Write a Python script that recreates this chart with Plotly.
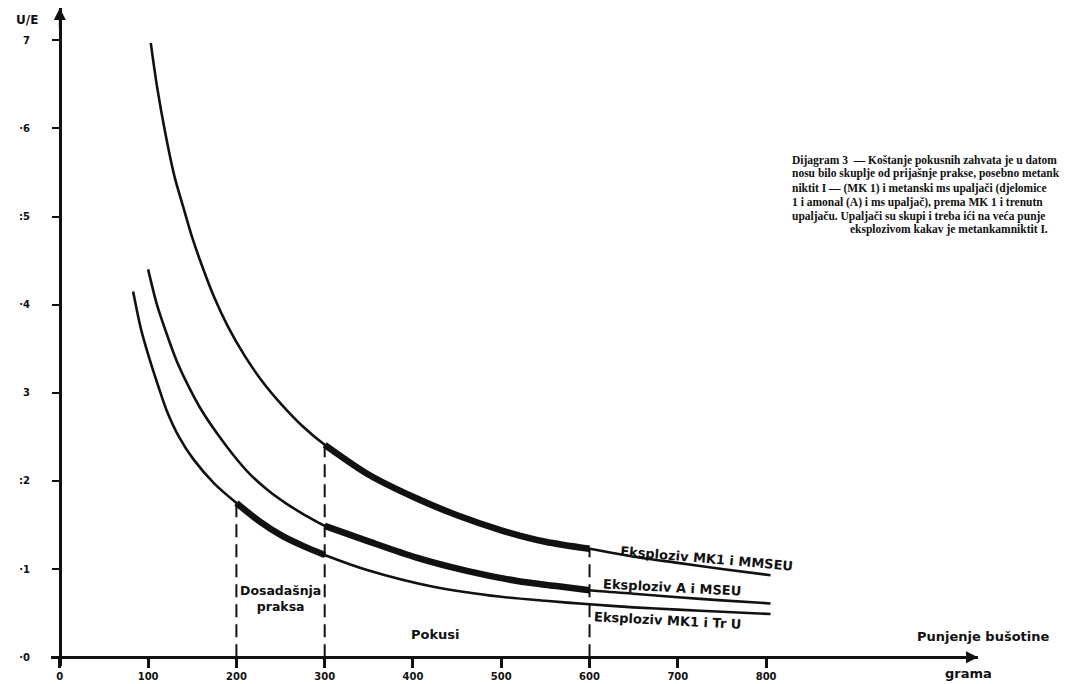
import plotly.graph_objects as go

# ---------------- data ----------------
x_mmseu = [103, 110, 120, 130, 140, 150, 160, 175, 190, 210, 230, 250, 275, 300, 350, 400, 450, 500, 550, 600, 650, 700, 750, 805]
y_mmseu = [6.97, 6.48, 5.92, 5.45, 5.10, 4.76, 4.47, 4.08, 3.76, 3.41, 3.12, 2.88, 2.62, 2.41, 2.07, 1.82, 1.61, 1.44, 1.31, 1.23, 1.14, 1.07, 1.00, 0.93]

x_amseu = [100, 110, 121, 132, 144, 160, 178, 196, 215, 235, 257, 278, 300, 348, 404, 461, 518, 560, 600, 650, 700, 750, 805]
y_amseu = [4.40, 4.00, 3.67, 3.37, 3.11, 2.81, 2.54, 2.30, 2.08, 1.90, 1.74, 1.61, 1.49, 1.32, 1.13, 0.98, 0.865, 0.81, 0.76, 0.72, 0.68, 0.645, 0.61]

x_tru = [83, 92, 102, 112, 121, 135, 151, 175, 200, 225, 253, 276, 300, 348, 423, 500, 550, 600, 650, 700, 750, 805]
y_tru = [4.15, 3.72, 3.37, 3.06, 2.80, 2.50, 2.25, 1.97, 1.75, 1.55, 1.37, 1.26, 1.16, 0.99, 0.80, 0.685, 0.64, 0.60, 0.565, 0.54, 0.515, 0.49]

label_mmseu = "Eksploziv MK1 i MMSEU"
label_amseu = "Eksploziv A i MSEU"
label_tru = "Eksploziv MK1 i Tr U"

practice_range = [200, 300]   # "Dosadašnja praksa"
trials_range = [300, 600]     # "Pokusi"

x_tick_vals = [0, 100, 200, 300, 400, 500, 600, 700, 800]
x_tick_text = ["0", "100", "200", "300", "400", "500", "600", "700", "800"]
y_tick_vals = [0, 1, 2, 3, 4, 5, 6, 7]
y_tick_text = ["·0", "·1", ":2", "3", "·4", ":5", "·6", "7"]

caption_lines = [
    "Dijagram 3  — Koštanje pokusnih zahvata je u datom",
    "nosu bilo skuplje od prijašnje prakse, posebno metank",
    "niktit I — (MK 1) i metanski ms upaljači (djelomice",
    "1 i amonal (A) i ms upaljač), prema MK 1 i trenutn",
    "upaljaču. Upaljači su skupi i treba ići na veća punje",
    "eksplozivom kakav je metankamniktit I.",
]

# ---------------- layout geometry ----------------
# the page body has an 8px margin, so the figure is sized to fit the window
PAGE_OFF = 8
W, H = 1061, 676
ML, MR, MT, MB = 43, 91, 0, 18
X_RANGE = [-10, 1040]
Y_RANGE = [-0.1, 7.366]
INK = "#111111"


def px_to_paper(px, py):
    """window pixel -> paper fraction"""
    pw = W - ML - MR
    ph = H - MT - MB
    return (px - PAGE_OFF - ML) / pw, (H - MB - (py - PAGE_OFF)) / ph


def segment(xs, ys, lo, hi):
    sx = [x for x in xs if lo <= x <= hi]
    sy = [y for x, y in zip(xs, ys) if lo <= x <= hi]
    return sx, sy


def value_at(xs, ys, xv):
    return dict(zip(xs, ys))[xv]


fig = go.Figure()

curves = [(x_mmseu, y_mmseu, trials_range), (x_amseu, y_amseu, trials_range), (x_tru, y_tru, practice_range)]
for xs, ys, rng in curves:
    fig.add_trace(go.Scatter(x=xs, y=ys, mode="lines", line=dict(color=INK, width=2.6, shape="spline", smoothing=0.8),
                             hoverinfo="skip", showlegend=False))
    sx, sy = segment(xs, ys, rng[0], rng[1])
    fig.add_trace(go.Scatter(x=sx, y=sy, mode="lines", line=dict(color=INK, width=6.5, shape="spline", smoothing=0.8),
                             hoverinfo="skip", showlegend=False))

# dashed vertical guides
guides = [
    (practice_range[0], value_at(x_tru, y_tru, practice_range[0])),
    (trials_range[0], value_at(x_mmseu, y_mmseu, trials_range[0])),
    (trials_range[1], value_at(x_mmseu, y_mmseu, trials_range[1])),
]
for gx, gy in guides:
    fig.add_trace(go.Scatter(x=[gx, gx], y=[0, gy], mode="lines",
                             line=dict(color=INK, width=2, dash="13px,7px"),
                             hoverinfo="skip", showlegend=False))

sans_bold = dict(family="DejaVu Sans", size=13, color=INK, weight="bold")

annotations = []


def add_label(x, y, text, font, ref="data", angle=0, xanchor="center"):
    if ref == "data":
        annotations.append(dict(x=x, y=y, xref="x", yref="y", text=text, showarrow=False, font=font,
                                textangle=angle, xanchor=xanchor, yanchor="middle"))
    else:
        px_, py_ = px_to_paper(x, y)
        annotations.append(dict(x=px_, y=py_, xref="paper", yref="paper", text=text, showarrow=False, font=font,
                                textangle=angle, xanchor=xanchor, yanchor="middle"))


# curve labels
add_label(732, 1.12, label_mmseu, sans_bold, angle=5)
add_label(693, 0.79, label_amseu, sans_bold, angle=3)
add_label(688, 0.42, label_tru, sans_bold, angle=3)
# region labels
add_label((practice_range[0] + practice_range[1]) / 2, 0.67, "Dosadašnja<br>praksa",
          dict(family="DejaVu Sans", size=12.5, color=INK, weight="bold"))
add_label(426, 0.26, "Pokusi", sans_bold)

# axis titles (window pixel positions)
add_label(27, 20, "U/E", dict(family="DejaVu Sans", size=12, color=INK, weight="bold"), ref="paper")
add_label(984, 636, "Punjenje bušotine", sans_bold, ref="paper")
add_label(968, 673, "grama", sans_bold, ref="paper")

# axis arrows
annotations.append(dict(x=0, y=Y_RANGE[1], xref="x", yref="y", ax=0, ay=22, text="", showarrow=True,
                        arrowhead=2, arrowsize=1.2, arrowwidth=2, arrowcolor=INK))
annotations.append(dict(x=X_RANGE[1], y=0, xref="x", yref="y", ax=-22, ay=0, text="", showarrow=True,
                        arrowhead=2, arrowsize=1.2, arrowwidth=2, arrowcolor=INK))

# caption
cap_y = [160, 174, 188, 202, 216, 230]
cap_x = [790, 790, 790, 790, 790, 848]
cap_font = dict(family="Liberation Serif", size=11.5, color=INK, weight="bold")
for line, cx, cy in zip(caption_lines, cap_x, cap_y):
    add_label(cx, cy, line, cap_font, ref="paper", xanchor="left")

fig.update_layout(
    template="none",
    width=W, height=H,
    margin=dict(l=ML, r=MR, t=MT, b=MB, autoexpand=False),
    paper_bgcolor="white", plot_bgcolor="white",
    showlegend=False,
    annotations=annotations,
    xaxis=dict(range=X_RANGE, domain=[0, 1], anchor="free", automargin=False,
               position=(0 - Y_RANGE[0]) / (Y_RANGE[1] - Y_RANGE[0]),
               showgrid=False, zeroline=False, showline=True, linecolor=INK, linewidth=2.5,
               ticks="outside", ticklen=9, tickwidth=2.5, tickcolor=INK,
               tickvals=x_tick_vals, ticktext=x_tick_text,
               tickfont=dict(family="DejaVu Sans", size=10, color=INK, weight="bold")),
    yaxis=dict(range=Y_RANGE, domain=[0, 1], anchor="free", automargin=False,
               position=(0 - X_RANGE[0]) / (X_RANGE[1] - X_RANGE[0]),
               showgrid=False, zeroline=False, showline=True, linecolor=INK, linewidth=2.5,
               ticks="outside", ticklen=7, tickwidth=2, tickcolor=INK,
               tickvals=y_tick_vals, ticktext=y_tick_text, ticklabelstandoff=20,
               tickfont=dict(family="DejaVu Sans", size=10, color=INK, weight="bold")),
)

fig.write_html("out.html")
